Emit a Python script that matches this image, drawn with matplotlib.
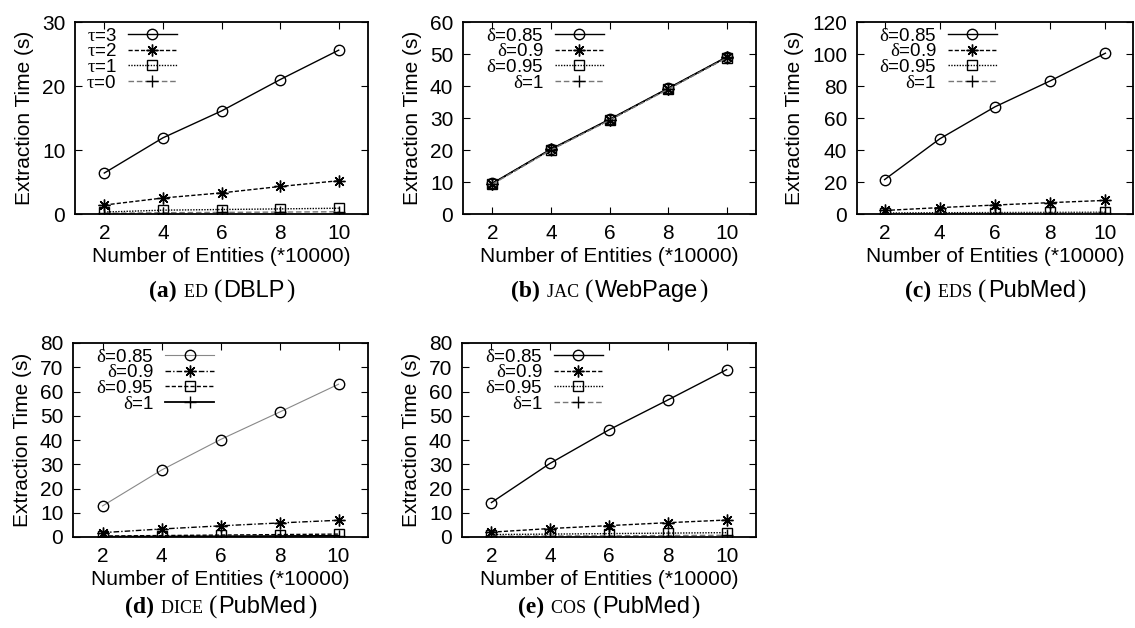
import numpy as np
import matplotlib
matplotlib.use("Agg")
import matplotlib.pyplot as plt
from matplotlib.offsetbox import TextArea, HPacker, AnnotationBbox

plt.rcParams['font.family'] = ['Liberation Sans', 'DejaVu Sans']
plt.rcParams['mathtext.fontset'] = 'custom'
plt.rcParams['mathtext.rm'] = 'Liberation Serif'
plt.rcParams['mathtext.it'] = 'Liberation Serif'

# number of entities (*10000)
entities = [2, 4, 6, 8, 10]

# (a) ED on DBLP, tau thresholds
ed_labels = [r'$\tau$=3', r'$\tau$=2', r'$\tau$=1', r'$\tau$=0']
ed_t3 = [6.4, 11.9, 16.1, 21.0, 25.6]
ed_t2 = [1.4, 2.5, 3.3, 4.3, 5.2]
ed_t1 = [0.3, 0.6, 0.7, 0.8, 0.9]
ed_t0 = [0.1, 0.2, 0.25, 0.3, 0.35]

delta_labels = [r'$\delta$=0.85', r'$\delta$=0.9', r'$\delta$=0.95', r'$\delta$=1']

# (b) JAC on WebPage
jac_085 = [9.6, 20.3, 29.6, 39.3, 49.1]
jac_090 = [9.5, 20.2, 29.5, 39.2, 49.0]
jac_095 = [9.4, 20.1, 29.4, 39.1, 48.9]
jac_100 = [9.3, 20.0, 29.3, 39.0, 48.8]

# (c) EDS on PubMed
eds_085 = [21.5, 47.0, 67.0, 83.2, 100.5]
eds_090 = [2.2, 4.0, 5.6, 7.1, 8.5]
eds_095 = [0.6, 0.8, 0.9, 1.0, 1.1]
eds_100 = [0.2, 0.3, 0.4, 0.5, 0.6]

# (d) DICE on PubMed
dice_085 = [12.8, 27.6, 40.2, 51.5, 63.0]
dice_090 = [1.8, 3.3, 4.6, 5.8, 6.9]
dice_095 = [0.4, 0.6, 0.8, 1.0, 1.2]
dice_100 = [0.1, 0.2, 0.3, 0.4, 0.5]

# (e) COS on PubMed
cos_085 = [14.2, 30.4, 44.2, 56.5, 69.0]
cos_090 = [2.0, 3.5, 4.7, 5.9, 7.0]
cos_095 = [1.0, 1.2, 1.4, 1.6, 1.8]
cos_100 = [0.3, 0.4, 0.5, 0.6, 0.7]

star = (8, 2, 0)
std_styles = [
    dict(color='black', ls='-', lw=1.0, marker='o'),
    dict(color='black', ls=(0, (3, 1.5)), lw=1.0, marker=star),
    dict(color='black', ls=(0, (1, 1)), lw=1.0, marker='s'),
    dict(color='#777777', ls=(0, (4, 2)), lw=1.0, marker='+'),
]
dice_styles = [
    dict(color='#888888', ls='-', lw=0.8, marker='o'),
    dict(color='black', ls=(0, (4, 1.5, 1, 1.5)), lw=1.0, marker=star),
    dict(color='black', ls=(0, (3, 1.5)), lw=1.0, marker='s'),
    dict(color='black', ls='-', lw=1.3, marker='+'),
]

W, H = 1135, 628
fig = plt.figure(figsize=(W / 100, H / 100), dpi=100)


def panel(rect, series, labels, styles, ymax, ystep, tag, name, data, cap_off, leg_x):
    l, t, r, b = rect
    ax = fig.add_axes([l / W, 1 - b / H, (r - l) / W, (b - t) / H])
    for ys, lab, st in zip(series, labels, styles):
        ms = {'o': 7.5, 's': 7.0, '+': 8.0}.get(st['marker'], 8.5)
        ax.plot(entities, ys, label=lab, markersize=ms, markerfacecolor='none',
                markeredgecolor='black', markeredgewidth=1.0, **st)
    ax.set_xlim(1, 11)
    ax.set_ylim(0, ymax)
    ax.set_xticks(entities)
    ax.set_yticks(np.arange(0, ymax + 1, ystep))
    ax.tick_params(direction='in', top=True, right=True, labelsize=15,
                   length=5, width=0.8, pad=7)
    for s in ax.spines.values():
        s.set_linewidth(1.3)
    ax.set_xlabel('Number of Entities (*10000)', fontsize=15, labelpad=3)
    ax.set_ylabel('Extraction Time (s)', fontsize=15, labelpad=6)
    ax.legend(loc='upper left', bbox_to_anchor=(leg_x, 1.0), frameon=False,
              markerfirst=False, fontsize=13.5, handlelength=2.6,
              labelspacing=-0.08, handletextpad=0.6, borderaxespad=0.1,
              borderpad=0.2)
    cap = HPacker(children=[
        TextArea('(' + tag + ') ', textprops=dict(family='Liberation Serif', weight='bold', size=17)),
        TextArea(name + ' ', textprops=dict(family='Liberation Serif', size=13)),
        TextArea('(', textprops=dict(family='Liberation Serif', size=18)),
        TextArea(data, textprops=dict(family='Liberation Sans', size=17)),
        TextArea(')', textprops=dict(family='Liberation Serif', size=18)),
    ], align='baseline', pad=0, sep=1)
    ab = AnnotationBbox(cap, (0.5, 0), xycoords='axes fraction',
                        xybox=(0, -cap_off), boxcoords='offset pixels',
                        frameon=False, box_alignment=(0.5, 0.5))
    ax.add_artist(ab)
    return ax


panel((75, 22, 368, 214), [ed_t3, ed_t2, ed_t1, ed_t0], ed_labels, std_styles,
      30, 10, 'a', 'ED', 'DBLP', 77, 0.02)
panel((463, 22, 756, 214), [jac_085, jac_090, jac_095, jac_100], delta_labels, std_styles,
      60, 10, 'b', 'JAC', 'WebPage', 77, 0.06)
panel((857, 22, 1133, 214), [eds_085, eds_090, eds_095, eds_100], delta_labels, std_styles,
      120, 20, 'c', 'EDS', 'PubMed', 77, 0.06)
panel((73, 343, 368, 537), [dice_085, dice_090, dice_095, dice_100], delta_labels, dice_styles,
      80, 10, 'd', 'DICE', 'PubMed', 70, 0.06)
panel((462, 343, 756, 537), [cos_085, cos_090, cos_095, cos_100], delta_labels, std_styles,
      80, 10, 'e', 'COS', 'PubMed', 70, 0.06)

fig.savefig('out.png', dpi=100)
